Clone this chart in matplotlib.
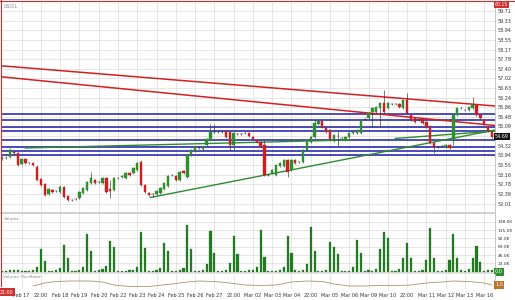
import matplotlib
matplotlib.use("Agg")
import matplotlib.pyplot as plt
import numpy as np
from matplotlib.lines import Line2D

# ---- candle data (4h bars) ----
opens = [53.83, 53.83, 53.87, 54.07, 54.03, 53.59, 53.79, 53.63, 53.63, 53.47,
         52.99, 52.79, 52.39, 52.55, 52.51, 52.47, 52.67, 52.31, 52.15, 52.19,
         52.23, 52.43, 52.55, 52.83, 52.95, 52.87, 52.83, 53.03, 52.59, 52.55,
         53.03, 53.07, 53.03, 53.23, 53.23, 53.35, 53.67, 52.75, 52.43, 52.39,
         52.39, 52.43, 52.59, 52.71, 53.15, 53.11, 52.95, 53.31, 53.07, 53.95,
         54.11, 54.23, 54.19, 54.35, 54.55, 54.87, 54.87, 54.87, 54.91, 54.87,
         54.35, 54.79, 54.79, 54.83, 54.83, 54.67, 54.55, 54.47, 54.35, 53.15,
         53.23, 53.15, 53.51, 53.51, 53.75, 53.35, 53.75, 53.67, 53.67, 54.15,
         54.47, 54.67, 55.19, 55.31, 55.07, 54.95, 54.59, 54.71, 54.63, 54.55,
         54.67, 54.83, 54.83, 54.83, 55.39, 55.43, 55.67, 55.67, 55.83, 56.03,
         55.83, 55.99, 55.99, 55.99, 55.83, 56.15, 55.55, 55.43, 55.35, 55.39,
         55.27, 55.07, 54.43, 54.27, 54.31, 54.27, 54.35, 54.55, 55.55, 55.83,
         55.75, 55.75, 55.83, 55.95, 55.55, 55.35, 55.07, 54.87]
highs = [53.91, 53.91, 54.23, 54.11, 54.07, 53.83, 53.83, 53.67, 53.67, 53.55,
         53.03, 52.83, 52.63, 52.59, 52.55, 52.75, 52.71, 52.35, 52.19, 52.23,
         52.51, 52.67, 52.91, 53.27, 52.99, 52.91, 53.07, 53.07, 52.95, 53.07,
         53.07, 53.15, 53.27, 53.27, 53.47, 53.67, 53.75, 52.79, 52.47, 52.43,
         52.55, 52.67, 52.87, 53.15, 53.19, 53.15, 53.31, 53.35, 53.99, 54.19,
         54.31, 54.27, 54.31, 54.63, 55.19, 55.19, 54.91, 54.91, 54.95, 54.91,
         54.87, 54.83, 54.83, 54.87, 54.87, 54.71, 54.59, 54.51, 54.55, 53.19,
         53.39, 53.59, 53.67, 53.79, 53.79, 53.79, 53.79, 53.71, 54.19, 54.51,
         54.71, 55.39, 55.35, 55.35, 55.11, 54.99, 54.79, 54.95, 54.67, 54.71,
         54.87, 54.91, 54.99, 55.35, 55.43, 55.67, 55.87, 55.91, 56.07, 56.55,
         56.07, 56.03, 56.03, 56.03, 56.19, 56.43, 55.59, 55.47, 55.39, 55.43,
         55.31, 55.15, 54.47, 54.31, 54.35, 54.39, 54.39, 55.59, 55.87, 55.87,
         55.79, 55.91, 56.27, 55.99, 55.59, 55.39, 55.11, 54.91]
lows = [53.75, 53.79, 53.83, 53.99, 53.51, 53.55, 53.59, 53.59, 53.51, 52.91,
        52.71, 52.31, 52.35, 52.43, 52.47, 52.43, 52.23, 52.11, 52.11, 52.15,
        52.19, 52.39, 52.51, 52.79, 52.79, 52.83, 52.79, 52.43, 52.23, 52.51,
        52.99, 53.03, 52.99, 53.11, 53.19, 53.31, 52.71, 52.43, 52.31, 52.27,
        52.35, 52.39, 52.55, 52.67, 53.11, 52.91, 52.91, 53.19, 53.03, 53.91,
        54.07, 54.19, 54.15, 54.31, 54.51, 54.83, 54.83, 54.83, 54.63, 54.15,
        54.15, 54.75, 54.75, 54.79, 54.67, 54.55, 54.43, 54.23, 53.11, 53.11,
        53.19, 53.11, 53.47, 53.47, 53.07, 53.31, 53.59, 53.63, 53.63, 54.11,
        54.43, 54.63, 55.15, 55.03, 54.83, 54.55, 54.47, 54.31, 54.59, 54.51,
        54.63, 54.79, 54.79, 54.79, 55.35, 55.39, 55.07, 55.63, 55.07, 55.63,
        55.79, 55.95, 55.95, 55.83, 55.79, 55.59, 55.31, 55.23, 55.31, 55.19,
        55.03, 54.39, 54.03, 54.23, 54.27, 54.23, 54.19, 54.35, 55.51, 55.79,
        55.71, 55.71, 55.79, 55.51, 55.39, 55.15, 54.87, 54.59]
closes = [53.83, 53.83, 54.15, 54.03, 53.55, 53.79, 53.63, 53.63, 53.55, 52.95,
          52.75, 52.35, 52.59, 52.47, 52.51, 52.67, 52.27, 52.15, 52.15, 52.19,
          52.47, 52.63, 52.87, 53.03, 52.83, 52.87, 53.03, 52.47, 52.51, 53.03,
          53.03, 53.11, 53.23, 53.15, 53.43, 53.63, 52.75, 52.47, 52.35, 52.39,
          52.51, 52.63, 52.83, 53.11, 53.15, 52.95, 53.27, 53.23, 53.95, 54.15,
          54.27, 54.23, 54.27, 54.59, 54.87, 54.87, 54.87, 54.87, 54.67, 54.35,
          54.83, 54.79, 54.79, 54.83, 54.71, 54.59, 54.47, 54.27, 53.15, 53.15,
          53.35, 53.55, 53.63, 53.75, 53.27, 53.75, 53.63, 53.67, 54.15, 54.47,
          54.67, 55.23, 55.31, 55.07, 54.87, 54.59, 54.75, 54.71, 54.63, 54.67,
          54.83, 54.87, 54.95, 55.31, 55.39, 55.63, 55.83, 55.87, 56.03, 55.67,
          56.03, 55.99, 55.99, 55.87, 56.15, 55.63, 55.35, 55.27, 55.35, 55.23,
          55.07, 54.43, 54.27, 54.27, 54.31, 54.35, 54.23, 55.55, 55.83, 55.83,
          55.75, 55.87, 55.95, 55.55, 55.43, 55.19, 54.91, 54.69]

# volume per bar, thousands
volume_k = [3, 3, 4, 4, 5, 3, 3, 3, 4, 14, 62, 30, 3, 3, 4, 10, 74, 38, 3, 3,
            4, 14, 104, 57, 3, 4, 7, 17, 85, 67, 3, 3, 3, 4, 5, 14, 110, 65, 3, 3,
            4, 10, 80, 58, 3, 3, 4, 11, 129, 62, 3, 3, 4, 20, 113, 52, 3, 3, 4, 23,
            99, 49, 3, 3, 4, 4, 14, 115, 40, 3, 3, 3, 4, 14, 99, 52, 4, 3, 4, 21,
            124, 57, 3, 3, 4, 83, 69, 49, 3, 3, 3, 14, 87, 52, 3, 4, 3, 7, 63, 110,
            94, 3, 3, 7, 37, 78, 37, 3, 3, 4, 32, 120, 37, 3, 3, 4, 32, 104, 37, 4,
            3, 7, 37, 72, 28, 3, 4, 4]

# volume oscillator (sampled)
osc_idx = [8, 11, 14, 18, 23, 26, 29, 33, 38, 44, 48, 51, 55, 59, 63, 67, 71, 75,
           79, 83, 86, 90, 94, 98, 102, 106, 110, 114, 117, 121, 125, 127]
osc_val = [0, 3, 4.5, 5, 5, 4, 1, -0.5, -0.5, 2, 4, 5, 4.5, 3, 1, 0.5, 1, 4,
           5, 4.5, 2, 0, 0, 0.5, 0.5, 1, 3, 4, 5, 4.5, 3, 1]

# drawn support / resistance levels
blue_levels = [55.59, 55.35, 55.09, 54.93, 54.55, 54.29, 54.11, 53.97]
red_lines = [((-0.44, 57.52), (127.8, 55.91)),
             ((-0.44, 57.08), (127.8, 55.13))]
green_lines = [((38.4, 52.25), (127.8, 54.95)),
               ((6.0, 54.23), (90.0, 54.55)),
               ((101.9, 54.61), (127.8, 54.91))]

date_labels = ["Feb 17", "22:00", "Feb 18", "Feb 19", "Feb 20", "Feb 22", "Feb 23",
               "Feb 24", "Feb 25", "Feb 26", "Feb 27", "22:00", "Mar 02", "Mar 03",
               "Mar 04", "22:00", "Mar 05", "Mar 06", "Mar 09", "Mar 10", "22:00",
               "Mar 11", "Mar 12", "Mar 13", "Mar 16"]
price_ticks = np.linspace(59.71, 52.01, 21)
vol_ticks_k = [23, 46, 69, 92, 115, 138]

UP, DOWN, DOJI = "#2f8f2f", "#cc2020", "#222222"
GRID = "#dcdcdc"
BORDER = "#d03030"

plt.rcParams.update({"font.family": "DejaVu Sans", "font.size": 4})

fig = plt.figure(figsize=(5.15, 3.0), dpi=100)
fig.patch.set_facecolor("white")

L, W = 1 / 515, 494 / 515
ax = fig.add_axes([L, 1 - 212 / 300, W, 211 / 300])
axv = fig.add_axes([L, 1 - 274 / 300, W, 61 / 300], sharex=ax)
axo = fig.add_axes([L, 1 - 289 / 300, W, 15 / 300], sharex=ax)

n = len(closes)
x = np.arange(n)
ax.set_xlim(-0.34, 127.8)
ax.set_ylim(51.67, 60.11)
xt = np.arange(5, 5 * len(date_labels) + 1, 5)

for a in (ax, axv, axo):
    a.set_xticks(xt)
    a.grid(True, color=GRID, lw=0.5)
    a.set_axisbelow(True)
    a.tick_params(length=0, labelsize=3.5, colors="#333333", pad=2)
    for s in ("top", "bottom", "left"):
        a.spines[s].set_visible(False)
    a.spines["right"].set_color("#bbbbbb")
    a.spines["right"].set_linewidth(0.6)
    a.yaxis.tick_right()
    a.tick_params(labelbottom=False)

axo.tick_params(labelbottom=True, pad=3)
axo.set_xticklabels(date_labels)

last = closes[-1]

# price axis (the tick under the current-price box gets no label)
ax.set_yticks(price_ticks)
ax.set_yticklabels(["" if abs(v - last) < 0.2 else f"{v:.2f}" for v in price_ticks])

# levels and trendlines
for lv in blue_levels:
    ax.axhline(lv, color="#1c1caa", lw=1.1, zorder=2)
for (x0, y0), (x1, y1) in red_lines:
    ax.plot([x0, x1], [y0, y1], color="#d42020", lw=1.1, zorder=2)
for (x0, y0), (x1, y1) in green_lines:
    ax.plot([x0, x1], [y0, y1], color="#2e8b2e", lw=1.0, zorder=2)

# candles
for i in range(n):
    o, h, l, c = opens[i], highs[i], lows[i], closes[i]
    if abs(c - o) < 0.01:
        col = DOJI
    else:
        col = UP if c > o else DOWN
    ax.vlines(i, l, h, color="#333333", lw=0.45, zorder=3)
    body = max(abs(c - o), 0.012)
    ax.bar(i, body, bottom=min(o, c), width=0.62, color=col,
           edgecolor=col, lw=0.3, zorder=4)

# current price box
ax.text(1.0, last, f"{last:.2f}", transform=ax.get_yaxis_transform(),
        ha="left", va="center", fontsize=3.5, color="white",
        bbox=dict(boxstyle="square,pad=0.25", fc="#111111", ec="none"),
        clip_on=False, zorder=6)
ax.text(1.0, 59.98, "60.15", transform=ax.get_yaxis_transform(),
        ha="left", va="center", fontsize=3.3, color="white",
        bbox=dict(boxstyle="square,pad=0.2", fc=BORDER, ec="none"),
        clip_on=False, zorder=6)
ax.text(0.005, 0.985, "USOIL", transform=ax.transAxes, ha="left", va="top",
        fontsize=3.4, color="#888888")

# volume panel
vol = np.array(volume_k) * 1000
axv.set_ylim(-6300, 162000)
axv.bar(x, vol, width=0.55, color="#237a23", edgecolor="#237a23", lw=0.2, zorder=3)
axv.axhspan(-6300, 0, color="#e2e2e2", zorder=1)
axv.set_yticks([v * 1000 for v in vol_ticks_k])
axv.set_yticklabels([f"{v:.1f}K" for v in vol_ticks_k])
axv.tick_params(labelsize=3.2)
axv.text(0.005, 0.93, "Volume", transform=axv.transAxes, ha="left", va="top",
         fontsize=3.2, color="#888888")
axv.text(1.0, 0, "0.0", transform=axv.get_yaxis_transform(), ha="left",
         va="center", fontsize=3.5, color="white",
         bbox=dict(boxstyle="square,pad=0.3", fc="#2f8f2f", ec="none"),
         clip_on=False, zorder=6)

# oscillator panel
axo.set_ylim(-3, 12)
axo.set_yticks([])
axo.plot(osc_idx, osc_val, color="#b09070", lw=0.6, zorder=3)
axo.text(0.005, 0.95, "Volume Oscillator", transform=axo.transAxes,
         ha="left", va="top", fontsize=3.2, color="#888888")
axo.text(1.0, osc_val[-1], f"{osc_val[-1]:.1f}", transform=axo.get_yaxis_transform(),
         ha="left", va="center", fontsize=3.5, color="white",
         bbox=dict(boxstyle="square,pad=0.3", fc="#b8762a", ec="none"),
         clip_on=False, zorder=6)

# panel separators and red frame
fig.add_artist(Line2D([L, L + W], [1 - 212.5 / 300] * 2, color="#c8c8c8", lw=1.2))
fig.add_artist(Line2D([1.2 / 515] * 2, [1 - 286 / 300, 1], color=BORDER, lw=0.8))
fig.add_artist(Line2D([0, 1], [1 - 1.2 / 300] * 2, color=BORDER, lw=0.8))
fig.text(0.0, 1 - 292 / 300, "21:00", ha="left", va="center", fontsize=3.4,
         color="white", bbox=dict(boxstyle="square,pad=0.3", fc=BORDER, ec="none"))

fig.savefig("out.png", dpi=100)
